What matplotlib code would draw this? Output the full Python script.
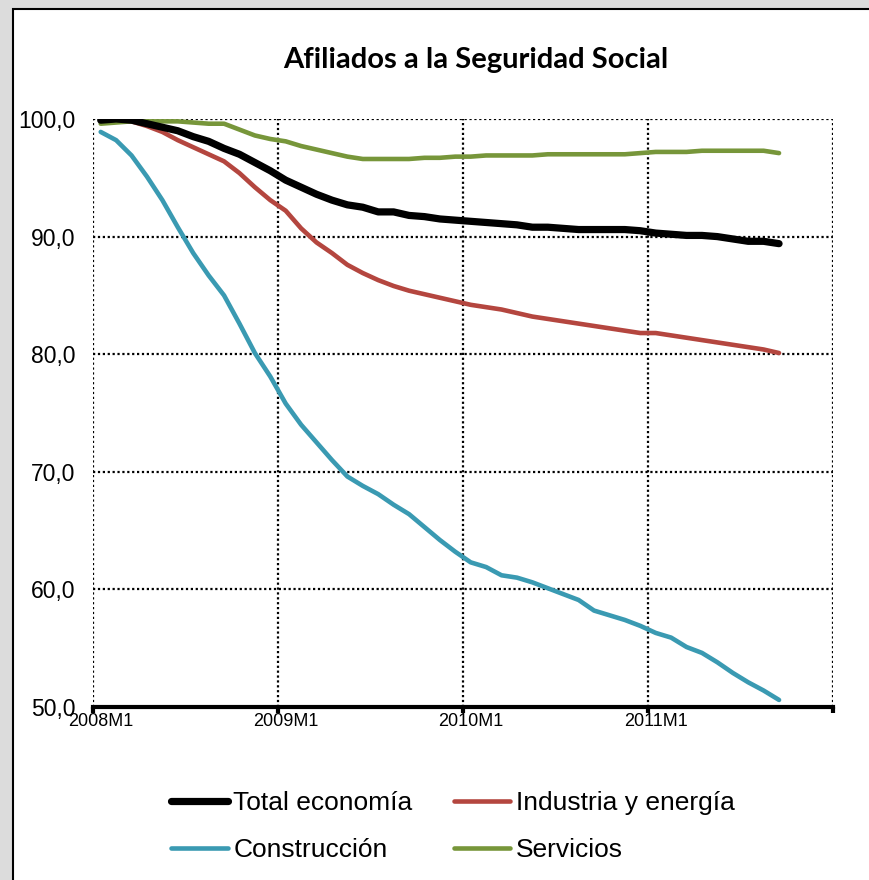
import matplotlib
matplotlib.use("Agg")
import matplotlib.pyplot as plt
from matplotlib.patches import Rectangle
from matplotlib.ticker import FixedLocator, NullFormatter

# Monthly index (2008M1 = 100), 2008M1 .. 2011M9
months = [f"{y}M{m}" for y in range(2008, 2012) for m in range(1, 13)][:45]
all_months = [f"{y}M{m}" for y in range(2008, 2012) for m in range(1, 13)]

total = [99.9, 100.0, 99.9, 99.6, 99.3, 99.0, 98.5, 98.1, 97.5, 97.0,
         96.3, 95.6, 94.8, 94.2, 93.6, 93.1, 92.7, 92.5, 92.1, 92.1,
         91.8, 91.7, 91.5, 91.4, 91.3, 91.2, 91.1, 91.0, 90.8, 90.8,
         90.7, 90.6, 90.6, 90.6, 90.6, 90.5, 90.3, 90.2, 90.1, 90.1,
         90.0, 89.8, 89.6, 89.6, 89.4]
industria = [99.8, 99.8, 99.8, 99.4, 98.9, 98.2, 97.6, 97.0, 96.4, 95.4,
             94.2, 93.1, 92.2, 90.7, 89.5, 88.6, 87.6, 86.9, 86.3, 85.8,
             85.4, 85.1, 84.8, 84.5, 84.2, 84.0, 83.8, 83.5, 83.2, 83.0,
             82.8, 82.6, 82.4, 82.2, 82.0, 81.8, 81.8, 81.6, 81.4, 81.2,
             81.0, 80.8, 80.6, 80.4, 80.1]
construccion = [98.9, 98.2, 96.9, 95.1, 93.1, 90.8, 88.6, 86.7, 85.0, 82.6,
                80.1, 78.1, 75.8, 74.0, 72.5, 71.0, 69.6, 68.8, 68.1, 67.2,
                66.4, 65.3, 64.2, 63.2, 62.3, 61.9, 61.2, 61.0, 60.6, 60.1,
                59.6, 59.1, 58.2, 57.8, 57.4, 56.9, 56.3, 55.9, 55.1, 54.6,
                53.8, 52.9, 52.1, 51.4, 50.6]
servicios = [99.6, 99.7, 99.8, 99.8, 99.8, 99.8, 99.7, 99.6, 99.6, 99.1,
             98.6, 98.3, 98.1, 97.7, 97.4, 97.1, 96.8, 96.6, 96.6, 96.6,
             96.6, 96.7, 96.7, 96.8, 96.8, 96.9, 96.9, 96.9, 96.9, 97.0,
             97.0, 97.0, 97.0, 97.0, 97.0, 97.1, 97.2, 97.2, 97.2, 97.3,
             97.3, 97.3, 97.3, 97.3, 97.1]

y_ticks = [50, 60, 70, 80, 90, 100]
y_labels = ["50,0", "60,0", "70,0", "80,0", "90,0", "100,0"]
x_label_months = ["2008M1", "2009M1", "2010M1", "2011M1"]

plt.rcParams["font.family"] = ["Liberation Sans", "DejaVu Sans"]

W, H = 869, 880
fig = plt.figure(figsize=(W / 100, H / 100), dpi=100, facecolor="#dcdcdc")

# white chart area with a dark frame
fig.patches.append(Rectangle((13 / W, -0.05), 1.0, (H - 9) / H + 0.05,
                             transform=fig.transFigure, facecolor="white",
                             edgecolor="black", lw=1.5, zorder=-5))

ax = fig.add_axes([93 / W, (H - 707) / H, 740 / W, 588 / H])
ax.set_facecolor("none")

x = list(range(len(months)))
l_tot, = ax.plot(x, total, color="black", lw=5.2, solid_capstyle="round",
                 solid_joinstyle="round", zorder=5, label="Total economía")
l_ind, = ax.plot(x, industria, color="#b4463f", lw=3.3, solid_capstyle="round",
                 solid_joinstyle="round", zorder=4, label="Industria y energía")
l_con, = ax.plot(x, construccion, color="#3a9ab2", lw=3.3, solid_capstyle="round",
                 solid_joinstyle="round", zorder=4, label="Construcción")
l_ser, = ax.plot(x, servicios, color="#77963a", lw=3.3, solid_capstyle="round",
                 solid_joinstyle="round", zorder=4, label="Servicios")

n_cat = len(all_months)
ax.set_xlim(-0.5, n_cat - 0.5)
ax.set_ylim(50, 100)

# dotted grid (including chart edges)
dot = (0, (1, 1.2))
for yv in y_ticks[1:]:
    ax.axhline(yv, color="black", lw=1.6, ls=dot, zorder=1)
bounds = [-0.5 + 12 * k for k in range(5)]
for xv in bounds:
    ax.axvline(xv, color="black", lw=1.6, ls=dot, zorder=1)

for s in ["top", "right", "left"]:
    ax.spines[s].set_visible(False)
ax.spines["bottom"].set_linewidth(3.0)
ax.spines["bottom"].set_zorder(6)

ax.set_yticks(y_ticks)
ax.set_yticklabels(y_labels, fontsize=16.5)
ax.tick_params(axis="y", length=0, pad=12.5)

label_pos = [all_months.index(m) for m in x_label_months]
ax.set_xticks(label_pos)
ax.set_xticklabels(x_label_months, fontsize=13)
ax.tick_params(axis="x", which="major", length=0, pad=4)
ax.xaxis.set_minor_locator(FixedLocator(bounds))
ax.xaxis.set_minor_formatter(NullFormatter())
ax.tick_params(axis="x", which="minor", length=4, width=3, direction="out")

fig.text(476 / W, 1 - 60 / H, "Afiliados a la Seguridad Social",
         ha="center", va="center", fontsize=21, fontweight="bold",
         family=["Lato", "DejaVu Sans"])

# legend filled column by column: 2 rows x 2 columns
fig.legend(handles=[l_tot, l_con, l_ind, l_ser], ncol=2,
           loc="upper left", bbox_to_anchor=(153 / W, 1 - 773 / H),
           frameon=False, fontsize=19, handlelength=2.15, handletextpad=0.2,
           columnspacing=1.55, labelspacing=0.85, borderpad=0.2)

fig.savefig("out.png", dpi=100, facecolor=fig.get_facecolor())
